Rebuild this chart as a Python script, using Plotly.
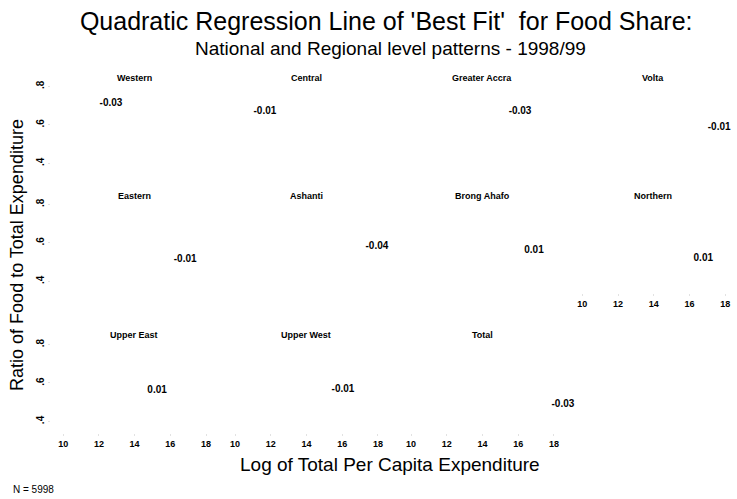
import plotly.graph_objects as go
from plotly.subplots import make_subplots

# Quadratic-term coefficients of the food-share fit, by region
regions = ["Western", "Central", "Greater Accra", "Volta",
           "Eastern", "Ashanti", "Brong Ahafo", "Northern",
           "Upper East", "Upper West", "Total"]
quad_coef = [-0.03, -0.01, -0.03, -0.01, -0.01, -0.04, 0.01, 0.01, 0.01, -0.01, -0.03]
x_ticks = [10, 12, 14, 16, 18]
y_ticks = [0.4, 0.6, 0.8]
y_tick_text = [".4", ".6", ".8"]
sample_size = 5998

# where each coefficient is written inside its panel (log expenditure, food share)
label_x = [12.68, 11.67, 16.10, 17.66, 16.83, 17.94, 16.88, 16.77, 15.26, 16.04, 18.50]
label_y = [0.709, 0.667, 0.667, 0.584, 0.512, 0.579, 0.559, 0.517, 0.559, 0.564, 0.486]

FONT = "Liberation Sans, Arial, sans-serif"
X_RANGE = [9.3, 18.65]
Y_RANGE = [0.34, 0.88]

col_domains = [[0.001, 0.244], [0.2512, 0.4943], [0.5074, 0.7505], [0.7567, 0.9998]]
row_domains = [[0.713, 1.0], [0.387, 0.674], [0.0, 0.287]]

fig = make_subplots(rows=3, cols=4)

for i, name in enumerate(regions):
    r, c = i // 4 + 1, i % 4 + 1
    fig.add_trace(
        go.Scatter(
            x=[label_x[i]], y=[label_y[i]], mode="text",
            text=[f"<b>{quad_coef[i]:.2f}</b>"],
            textfont=dict(family=FONT, size=10, color="#000000"),
            cliponaxis=False,
            showlegend=False, hoverinfo="skip", name=name,
        ),
        row=r, col=c,
    )

for k in range(1, 13):
    r, c = (k - 1) // 4 + 1, (k - 1) % 4 + 1
    xa = "xaxis" if k == 1 else f"xaxis{k}"
    ya = "yaxis" if k == 1 else f"yaxis{k}"
    if k == 12:
        fig.layout[xa].update(visible=False, domain=col_domains[c - 1])
        fig.layout[ya].update(visible=False, domain=row_domains[r - 1])
        continue
    show_x = (r == 3) or (r == 2 and c == 4)
    show_y = (c == 1)
    fig.layout[xa].update(
        domain=col_domains[c - 1], range=X_RANGE, tickvals=x_ticks,
        showticklabels=show_x, ticks="outside" if show_x else "", ticklen=2,
        tickcolor="#e2e2e2", showgrid=False, zeroline=False, showline=False,
        tickfont=dict(family=FONT, size=9, color="#000000", weight="bold"),
    )
    fig.layout[ya].update(
        domain=row_domains[r - 1], range=Y_RANGE, tickvals=y_ticks,
        ticktext=y_tick_text, tickangle=-90,
        showticklabels=show_y, ticks="outside" if show_y else "", ticklen=2,
        tickcolor="#e2e2e2", showgrid=False, zeroline=False, showline=False,
        tickfont=dict(family=FONT, size=10, color="#000000", weight="bold"),
    )

# panel headings, centred over each column
title_rows_y = [0.981, 0.655, 0.271]
annotations = []
for i, name in enumerate(regions):
    r, c = i // 4, i % 4
    annotations.append(dict(
        text=f"<b>{name}</b>", x=sum(col_domains[c]) / 2, y=title_rows_y[r],
        xref="paper", yref="paper", showarrow=False,
        font=dict(family=FONT, size=9, color="#000000"),
        xanchor="center", yanchor="middle",
    ))

annotations += [
    dict(text="National and Regional level patterns - 1998/99",
         x=0.495, y=1.0635, xref="paper", yref="paper", showarrow=False,
         font=dict(family=FONT, size=19, color="#000000"),
         xanchor="center", yanchor="middle"),
    dict(text="Log of Total Per Capita Expenditure",
         x=0.495, y=-0.086, xref="paper", yref="paper", showarrow=False,
         font=dict(family=FONT, size=19, color="#000000"),
         xanchor="center", yanchor="middle"),
    dict(text="Ratio of Food to Total Expenditure",
         x=-0.048, y=0.492, xref="paper", yref="paper", showarrow=False,
         textangle=-90, font=dict(family=FONT, size=18, color="#000000"),
         xanchor="center", yanchor="middle"),
    dict(text=f"N = {sample_size}",
         x=-0.057, y=-0.157, xref="paper", yref="paper", showarrow=False,
         font=dict(family=FONT, size=10, color="#000000"),
         xanchor="left", yanchor="middle"),
]

fig.update_layout(
    width=737, height=499,
    margin=dict(l=50, r=0, t=71, b=66),
    paper_bgcolor="#ffffff", plot_bgcolor="#ffffff",
    title=dict(text="Quadratic Regression Line of 'Best Fit'  for Food Share:",
               x=0.524, y=0.958, xanchor="center", yanchor="middle",
               font=dict(family=FONT, size=25, color="#000000")),
    annotations=annotations,
    showlegend=False,
)

fig.write_html("out.html")
